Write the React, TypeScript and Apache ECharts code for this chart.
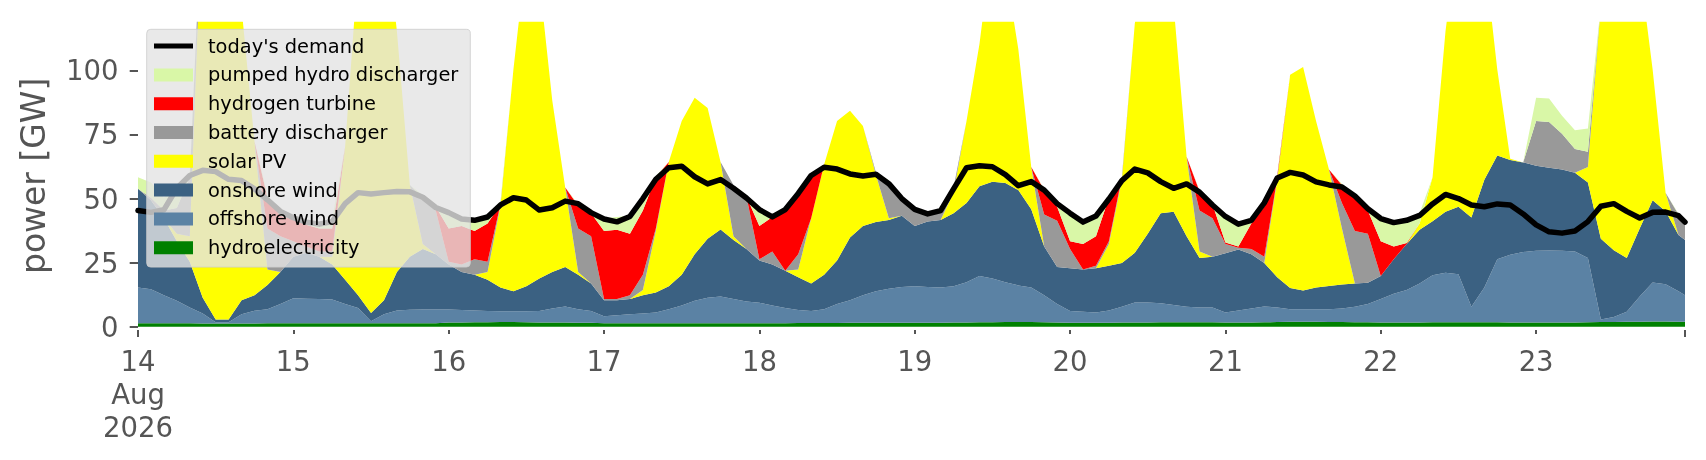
import React, { useEffect, useRef } from "react";
import * as echarts from "echarts";

const START = Date.UTC(2026, 7, 14);
const HOUR = 3600 * 1000;
// sample times in hours after 14 Aug 2026 00:00 (2-hourly, last sample 23 Aug 23:00)
const HOURS: number[] = Array.from({ length: 120 }, (_, i) => i * 2).concat([239]);
const X_END = 239;
const Y_MIN = -1.3;
const Y_MAX = 119;

const DAY_HOURS = [0, 24, 48, 72, 96, 120, 144, 168, 192, 216];
const DAY_LABELS = ["14\nAug\n2026", "15", "16", "17", "18", "19", "20", "21", "22", "23"];
const Y_TICKS = [0, 25, 50, 75, 100];

const DEMAND = [
  45.3, 44.6, 45.6, 54, 59, 61, 60.5, 57.5, 57, 53.8, 49.5, 45,
  42.5, 40.8, 40, 41, 48, 52.3, 51.8, 52.3, 52.7, 52.6, 50.5, 46.5,
  44.5, 42, 41.5, 42.8, 47.5, 50.3, 49.4, 45.5, 46.4, 49, 48, 44.5,
  42, 40.9, 43, 50, 57.5, 62, 62.6, 58.5, 55.7, 57.4, 54, 50.2,
  45.7, 42.8, 45.7, 52, 59, 62.2, 61.5, 59.6, 58.8, 59.5, 55.8, 50,
  45.8, 44, 45.3, 53.8, 62, 62.8, 62.4, 59.3, 55, 56.6, 53.3, 48,
  44.3, 40.8, 43.2, 49.8, 57, 61.5, 60, 56.6, 54, 55.7, 52.5, 47.5,
  43, 40, 41.5, 48.3, 58, 60.2, 59.2, 56.5, 55.3, 54.5, 51, 46,
  42.2, 40.6, 41.5, 43.4, 47.9, 51.6, 50, 47.5, 46.8, 47.9, 47.5, 44,
  39.7, 37, 36.5, 37.3, 41, 47, 48, 45, 42.4, 44.6, 44.7, 43.3,
  40.8,
];

const HYDRO = [
  1.3, 1.3, 1.3, 1.3, 1.3, 1.2, 1.2, 1.2, 1.2, 1.2, 1.3, 1.3,
  1.3, 1.3, 1.3, 1.3, 1.3, 1.3, 1.3, 1.3, 1.3, 1.3, 1.3, 1.3,
  1.6, 1.6, 1.7, 1.7, 1.8, 1.8, 1.7, 1.6, 1.6, 1.6, 1.5, 1.5,
  1.3, 1.3, 1.3, 1.3, 1.3, 1.3, 1.3, 1.3, 1.3, 1.3, 1.3, 1.3,
  1.3, 1.3, 1.3, 1.4, 1.4, 1.4, 1.4, 1.5, 1.5, 1.5, 1.5, 1.5,
  1.5, 1.5, 1.5, 1.6, 1.6, 1.7, 1.7, 1.8, 1.8, 1.8, 1.7, 1.6,
  1.5, 1.5, 1.5, 1.5, 1.6, 1.6, 1.6, 1.7, 1.7, 1.7, 1.7, 1.7,
  1.6, 1.6, 1.6, 1.7, 1.8, 1.9, 1.9, 1.9, 1.8, 1.8, 1.7, 1.7,
  1.6, 1.6, 1.6, 1.6, 1.7, 1.7, 1.7, 1.7, 1.7, 1.7, 1.6, 1.6,
  1.6, 1.6, 1.6, 1.6, 1.7, 1.8, 1.8, 1.9, 1.9, 2.0, 2.0, 1.9,
  1.9,
];

const OFFSHORE = [
  14.0, 13.3, 11.0, 8.8, 6.2, 3.9, 0.5, 0.5, 3.6, 5.0, 5.5, 7.5,
  9.8, 9.6, 9.5, 9.3, 7.5, 6.0, 0.8, 3.5, 5.0, 5.3, 5.4, 5.4,
  5.1, 4.9, 4.6, 4.4, 4.2, 4.2, 4.3, 4.5, 5.5, 6.3, 5.3, 4.6,
  2.8, 3.2, 3.5, 3.8, 4.2, 5.5, 7.0, 8.8, 10.0, 10.5, 9.5, 8.5,
  8.0, 7.0, 6.0, 5.1, 4.7, 5.4, 7.4, 8.8, 10.8, 12.3, 13.3, 14.0,
  14.3, 14.0, 13.8, 14.2, 15.7, 18.1, 17.1, 15.5, 14.3, 13.5, 10.6, 7.2,
  4.6, 4.3, 4.0, 4.8, 6.2, 7.8, 7.8, 7.4, 6.8, 6.1, 5.8, 5.8,
  3.9, 4.7, 5.5, 6.2, 5.7, 4.9, 4.9, 4.9, 5.0, 5.3, 6.1, 7.1,
  9.2, 11.2, 12.7, 15.2, 18.4, 19.3, 18.8, 6.1, 13.6, 24.6, 26.5, 27.5,
  28.0, 28.1, 28.0, 27.7, 25.1, 1.0, 2.0, 3.9, 9.9, 15.2, 14.6, 11.9,
  10.4,
];

const ONSHORE = [
  38.5, 34.7, 30.0, 23.2, 17.8, 6.2, 1.1, 1.1, 5.5, 6.1, 9.5, 12.5,
  16.2, 17.9, 16.5, 13.7, 9.5, 5.0, 3.2, 5.5, 15.0, 20.7, 23.6, 21.6,
  17.6, 14.8, 14.0, 12.2, 9.3, 7.8, 9.8, 12.7, 14.2, 15.4, 13.5, 10.7,
  6.2, 5.8, 6.0, 7.2, 7.8, 9.0, 12.0, 18.2, 23.0, 26.1, 23.0, 20.5,
  16.5, 16.0, 14.5, 12.8, 10.7, 13.5, 17.0, 24.5, 27.0, 27.0, 26.8, 27.8,
  23.5, 25.5, 26.3, 28.5, 31.0, 35.0, 37.7, 38.8, 37.2, 30.5, 19.0, 14.5,
  16.7, 16.5, 17.3, 17.5, 17.0, 19.4, 26.9, 35.2, 36.3, 27.5, 19.3, 19.8,
  23.1, 23.8, 21.2, 16.9, 11.8, 8.3, 7.3, 8.5, 9.1, 9.4, 9.0, 8.3,
  9.0, 13.5, 18.0, 21.0, 21.0, 23.8, 26.3, 34.8, 42.0, 40.5, 36.9, 35.0,
  33.2, 32.3, 31.7, 30.8, 29.5, 31.5, 26.0, 21.0, 26.5, 32.1, 28.4, 22.0,
  21.5,
];

const SOLAR = [
  0, 0, 0, 3, 10, 159, 182.5, 172.5, 114, 60, 6, 0,
  0, 0, 0, 3, 52, 128, 170, 150, 94, 28, 2, 0,
  0, 0, 0, 3, 32, 86.5, 129.5, 116.5, 67, 31, 1, 0,
  0, 0, 0, 2, 24, 48.5, 60, 61, 51, 26.4, 1.5, 0,
  0, 0, 0, 3, 25.5, 43, 54.5, 49.5, 39, 18.5, 0.7, 0,
  0, 0, 0, 8, 32, 55.5, 93.8, 84.2, 55, 16.5, 0, 0,
  0, 0, 0, 8.5, 32.5, 89.5, 114, 106, 80.5, 31, 2.5, 0,
  0, 0, 0, 0, 38, 83.2, 87.2, 65, 45.4, 21.8, 0, 0,
  0, 0, 0, 2.5, 17.2, 70.5, 108.5, 122.7, 88, 33.5, 0.5, 0,
  0, 0, 0, 0, 6, 91, 130.5, 138.5, 102, 51, 7.3, 0,
  0,
];

const BATTERY = [
  0, 1, 3, 10, 23, 0, 0, 0, 0, 0, 16, 14,
  6, 2.5, 2, 2, 0, 0, 0, 0, 0, 0, 18, 17,
  1, 3, 6, 4, 0.5, 0, 0, 0, 0, 0, 17, 18.5,
  0.5, 0.5, 1.5, 6, 1, 0, 0, 0, 0, 0, 20, 20.5,
  0.5, 5, 0, 6, 0, 0, 0, 0, 0, 1, 14.5, 7.5,
  7, 3.6, 3.7, 2, 0, 0, 0, 0, 0, 0, 12.5, 18,
  7.5, 0, 1, 1, 1, 0, 0, 0, 0, 0, 16, 15,
  3.7, 0.7, 2, 2.5, 0.5, 0, 0, 0, 0, 10, 20.5, 19.2,
  0, 0, 0, 0, 0, 0, 0, 0, 0, 0, 0, 0,
  17.5, 17.9, 14, 9.2, 6, 0, 0, 0, 0, 0, 0, 8,
  7.5,
];

const HYDROGEN = [
  0, 0, 0, 0, 0, 0, 0, 0, 0, 0, 12, 8,
  8.5, 8.5, 9, 9, 0, 0, 0, 0, 0, 0, 0, 1.5,
  13, 15, 11, 15, 0, 0, 0, 0, 0, 0, 9, 9,
  26.5, 27, 24, 25, 20, 0, 0, 0, 0, 0, 0, 0,
  13, 13.5, 24.5, 23.2, 17, 0, 0, 0, 0, 0, 0, 0,
  0, 0, 0, 0, 0, 0, 0, 0, 0, 0, 9.5, 5.5,
  3, 10, 11.5, 17, 0, 0, 0, 0, 0, 0, 7.5, 5.5,
  0.5, 0.5, 10, 19.5, 1, 0, 0, 0, 0, 7, 13.5, 9,
  13.5, 5, 0.3, 0, 0, 0, 0, 0, 0, 0, 0, 0,
  0, 0, 0, 0, 0, 0, 0, 0, 0, 0, 0, 0,
  0,
];

const PUMPED = [
  4.5, 6, 5, 9, 2, 0, 0, 0, 0, 0, 1, 1,
  1.5, 1.5, 2.5, 3.5, 0, 0, 0, 0, 0, 0, 1, 1,
  5, 2.5, 4.5, 3.5, 1, 0, 0, 0, 0, 0, 0.5, 0.5,
  5, 5, 7, 6, 0.5, 0, 0, 0, 0, 0, 0, 0.3,
  6, 1, 0.3, 0.3, 0.3, 0, 0, 0, 0, 0, 0.3, 0.3,
  0.3, 0.2, 0.3, 0, 0, 0, 0, 0, 0, 0, 0.3, 1.5,
  10.5, 9, 8.2, 0.5, 0, 0, 0, 0, 0, 0, 0.3, 0.5,
  11, 9.5, 1.5, 1, 0.5, 0, 0, 0, 0, 0.5, 0.5, 1.5,
  9, 9.5, 9.2, 4, 0, 0, 0, 0, 0, 0, 0, 0,
  9, 9.1, 7, 7.3, 9, 0, 0, 0, 0, 0, 0, 0.3,
  0.2,
];

const LAYERS = [
  { name: "hydroelectricity", color: "#008000", values: HYDRO },
  { name: "offshore wind", color: "#5b82a4", values: OFFSHORE },
  { name: "onshore wind", color: "#3b6182", values: ONSHORE },
  { name: "solar PV", color: "#ffff00", values: SOLAR },
  { name: "battery discharger", color: "#999999", values: BATTERY },
  { name: "hydrogen turbine", color: "#ff0000", values: HYDROGEN },
  { name: "pumped hydro discharger", color: "#d9f7a7", values: PUMPED },
];

const LEGEND_ORDER = [
  "today's demand",
  "pumped hydro discharger",
  "hydrogen turbine",
  "battery discharger",
  "solar PV",
  "onshore wind",
  "offshore wind",
  "hydroelectricity",
];

const FONT = "DejaVu Sans";
const GREY = "#555555";

export default function App() {
  const ref = useRef<HTMLDivElement>(null);

  useEffect(() => {
    const el = ref.current;
    if (!el) return;
    const chart = echarts.init(el, null, { renderer: "svg" });
    const ts = (h: number) => START + h * HOUR;

    const series: any[] = LAYERS.map((l) => ({
      name: l.name,
      type: "line",
      xAxisIndex: 0,
      stack: "generation",
      data: HOURS.map((h, i) => [ts(h), l.values[i]]),
      symbol: "none",
      showSymbol: false,
      silent: true,
      color: l.color,
      itemStyle: { color: l.color },
      lineStyle: { width: 0, color: l.color },
      areaStyle: { color: l.color, opacity: 1, origin: "start" },
      emphasis: { disabled: true },
      z: 2,
    }));
    // first layer fills from zero
    series[0].areaStyle.origin = 0;
    series.push({
      name: "today's demand",
      type: "line",
      xAxisIndex: 0,
      data: HOURS.map((h, i) => [ts(h), DEMAND[i]]),
      symbol: "none",
      showSymbol: false,
      silent: true,
      color: "#000000",
      itemStyle: { color: "#000000" },
      lineStyle: { width: 5.5, color: "#000000", join: "round", cap: "round" },
      emphasis: { disabled: true },
      z: 4,
    });

    const dayLabel = (v: number) => {
      const idx = DAY_HOURS.indexOf(Math.round(v));
      return idx >= 0 ? DAY_LABELS[idx] : "";
    };

    chart.setOption({
      animation: false,
      textStyle: { fontFamily: FONT },
      grid: {
        left: 138,
        right: 21,
        top: 21.7,
        bottom: 130,
        containLabel: false,
        outerBoundsMode: "none",
      },
      legend: {
        orient: "vertical",
        left: 146.7,
        top: 29.3,
        padding: [7.3, 12, 9.9, 7.3],
        itemWidth: 39,
        itemHeight: 13,
        itemGap: 9.8,
        backgroundColor: "rgba(227,227,227,0.8)",
        borderColor: "rgba(204,204,204,0.8)",
        borderWidth: 1,
        borderRadius: 4,
        selectedMode: false,
        z: 20,
        itemStyle: { borderWidth: 0 },
        textStyle: {
          fontFamily: FONT,
          fontSize: 19.4,
          color: "#000000",
          lineHeight: 18,
          padding: [0, 0, 0, 10],
        },
        data: LEGEND_ORDER.map((name) =>
          name === "today's demand"
            ? { name, icon: "path://M0 0H39V5H0Z", itemStyle: { color: "#000000", borderWidth: 0 } }
            : { name, icon: "rect" }
        ),
      },
      xAxis: [
        {
          // data axis (time), drawn invisibly
          type: "time",
          position: "bottom",
          min: ts(0),
          max: ts(X_END),
          show: false,
        },
        {
          // labels (hours since start) + long end ticks
          type: "value",
          position: "bottom",
          min: 0,
          max: X_END,
          axisLine: { show: false },
          splitLine: { show: false },
          axisTick: {
            show: true,
            customValues: [0, X_END],
            length: 7,
            lineStyle: { color: GREY, width: 2 },
          },
          axisLabel: {
            show: true,
            customValues: DAY_HOURS,
            formatter: dayLabel,
            fontFamily: FONT,
            fontSize: 27.5,
            lineHeight: 33,
            color: GREY,
            margin: 14.5,
          },
        },
        {
          // short day ticks
          type: "value",
          position: "bottom",
          min: 0,
          max: X_END,
          axisLine: { show: false },
          splitLine: { show: false },
          axisLabel: { show: false },
          axisTick: {
            show: true,
            customValues: DAY_HOURS.slice(1),
            length: 4,
            lineStyle: { color: GREY, width: 2 },
          },
        },
      ],
      yAxis: {
        type: "value",
        min: Y_MIN,
        max: Y_MAX,
        offset: 3,
        name: "power [GW]",
        nameLocation: "middle",
        nameGap: 85,
        nameTextStyle: { fontFamily: FONT, fontSize: 33, color: GREY },
        axisLine: { show: false },
        splitLine: { show: false },
        axisTick: {
          show: true,
          customValues: Y_TICKS,
          length: 8.3,
          lineStyle: { color: GREY, width: 2 },
        },
        axisLabel: {
          show: true,
          customValues: Y_TICKS,
          fontFamily: FONT,
          fontSize: 27.5,
          color: GREY,
          margin: 16.4,
        },
      },
      series,
    });

    return () => {
      chart.dispose();
    };
  }, []);

  return (
    <div
      ref={ref}
      style={{ position: "fixed", left: 0, top: 0, width: 1706, height: 460 }}
    />
  );
}
